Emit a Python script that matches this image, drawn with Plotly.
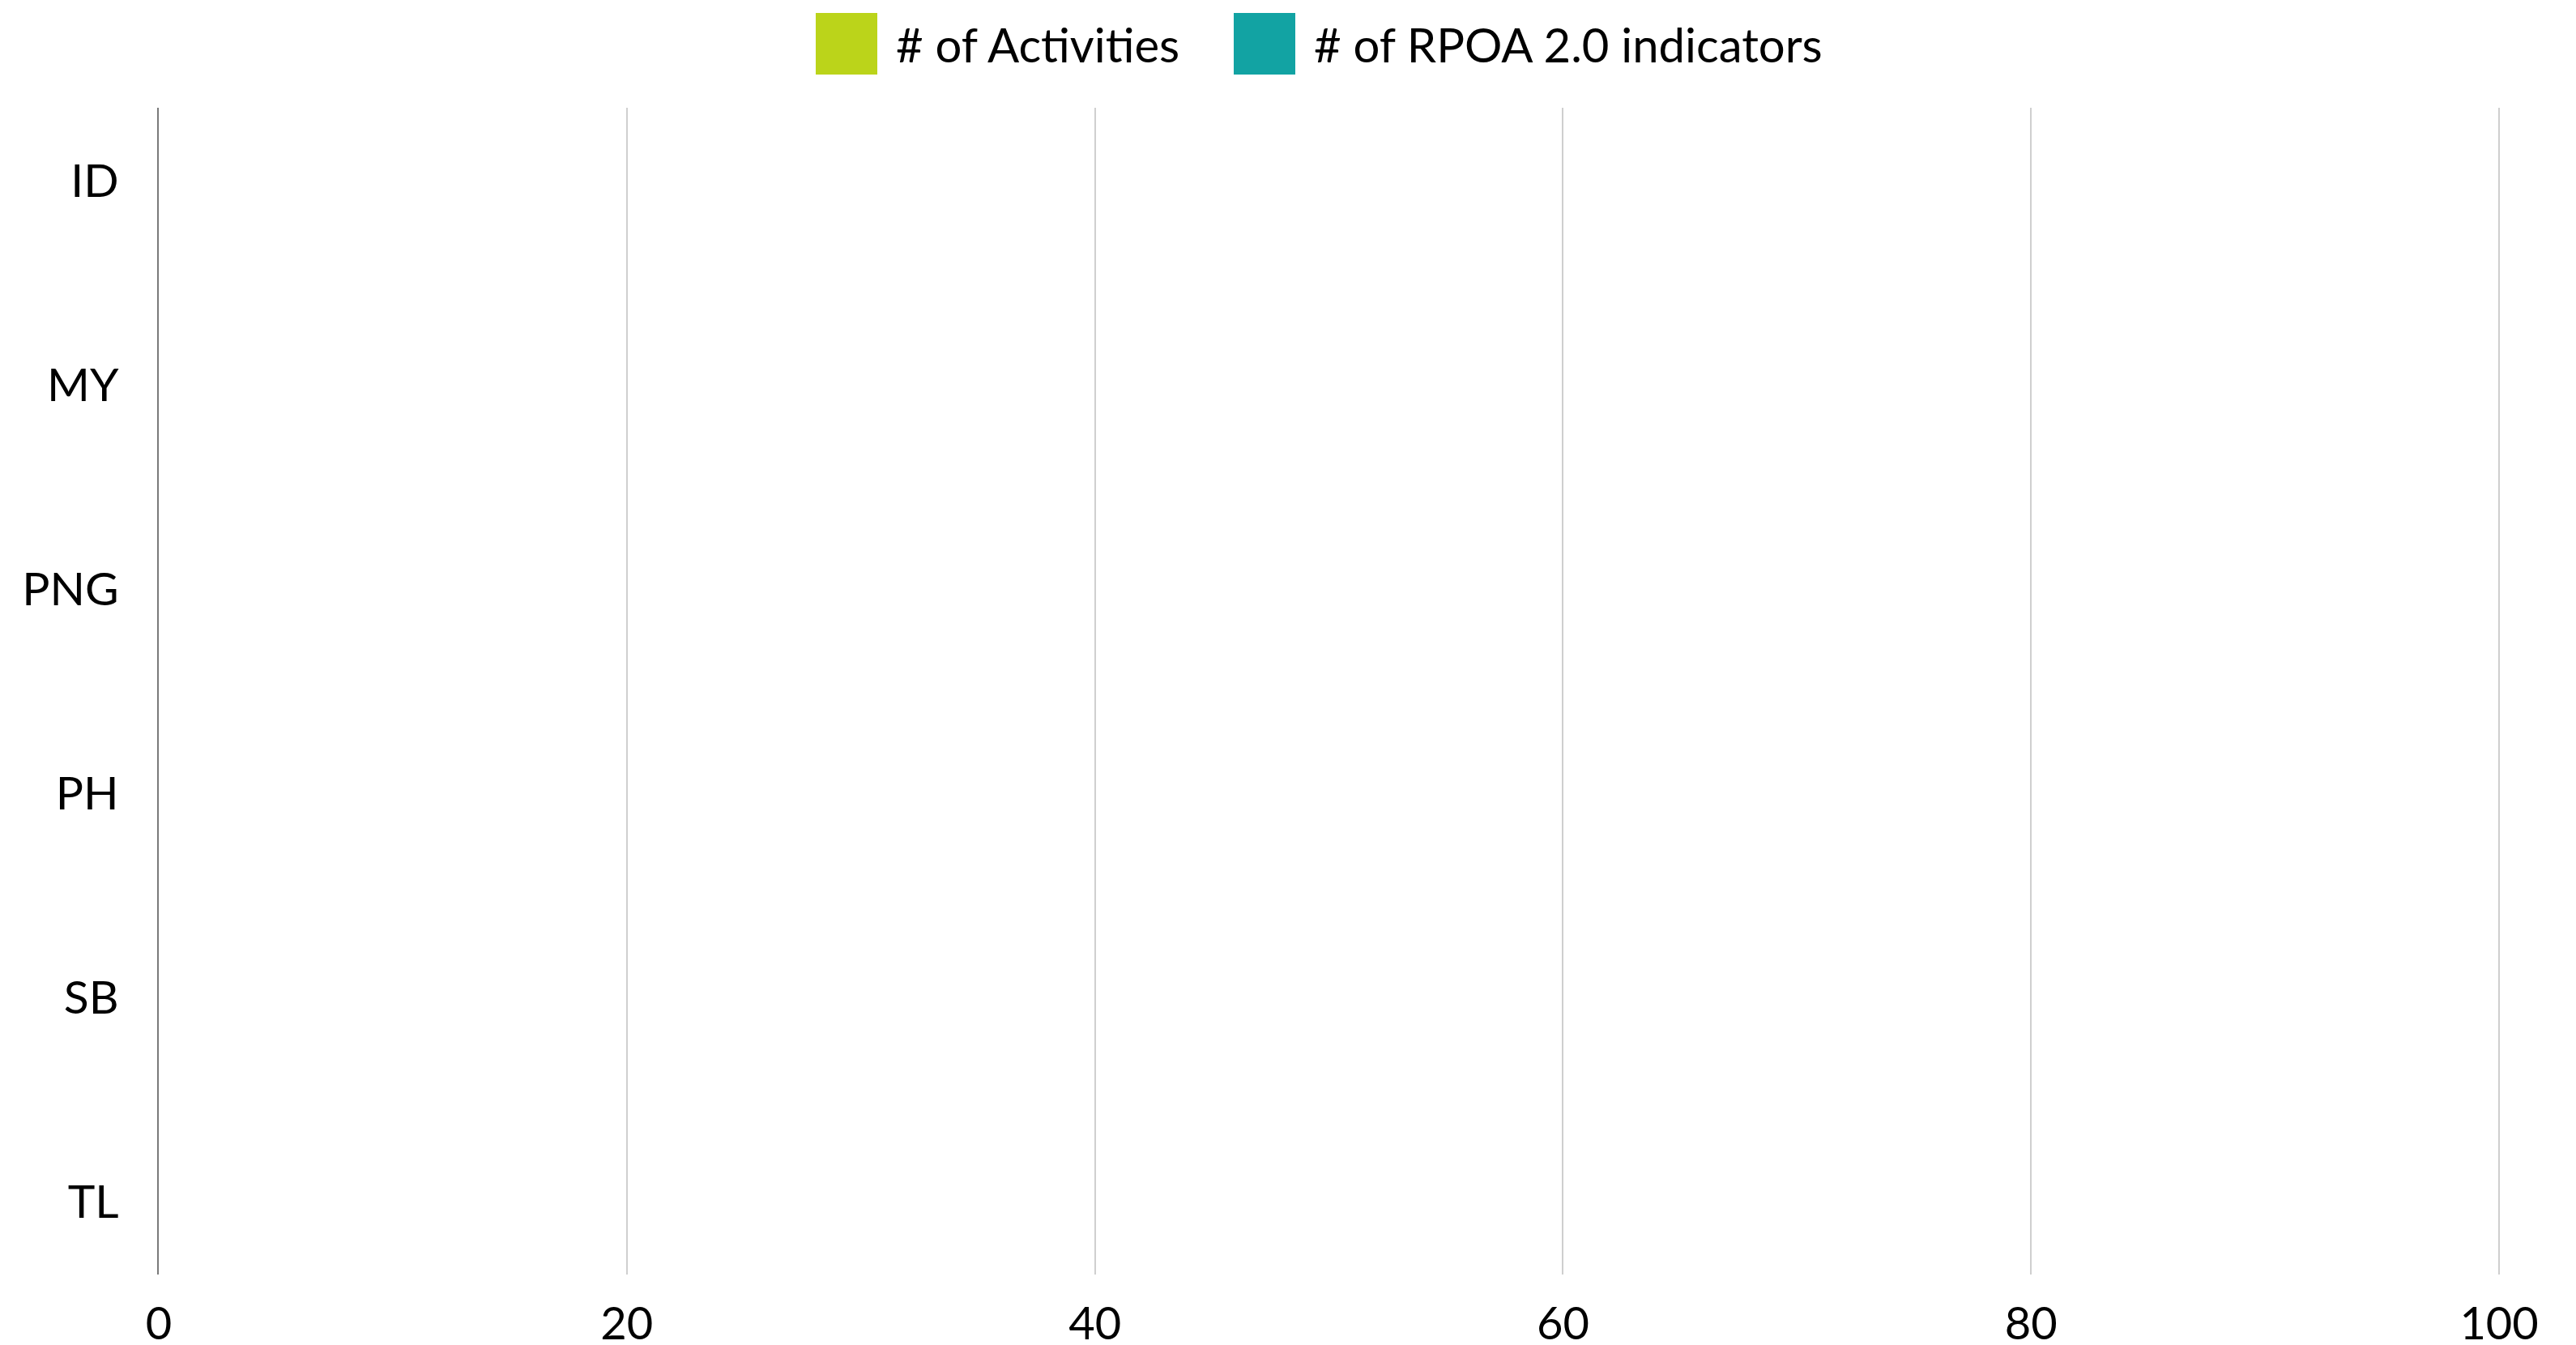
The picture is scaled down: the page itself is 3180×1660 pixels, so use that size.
import plotly.graph_objects as go

# ---- data ----
countries = ["ID", "MY", "PNG", "PH", "SB", "TL"]
activities = [0, 0, 0, 0, 0, 0]
rpoa_indicators = [0, 0, 0, 0, 0, 0]
series_names = ["# of Activities", "# of RPOA 2.0 indicators"]
series_colors = ["#BBD41A", "#12A3A3"]
x_ticks = [0, 20, 40, 60, 80, 100]

FONT = "Lato, 'Open Sans', sans-serif"

W, H = 3180, 1660
OFF = 8  # page body margin offset
ML, MT = 196 - OFF, 133 - OFF
MR = W - (3088 - OFF)
MB = H - (1573 - OFF)

fig = go.Figure()
for name, vals, col in zip(series_names, [activities, rpoa_indicators], series_colors):
    fig.add_trace(go.Bar(y=countries, x=vals, name=name, orientation="h",
                         marker=dict(color=col, line=dict(width=0)), showlegend=False))

fig.update_layout(
    width=W, height=H,
    margin=dict(l=ML, r=MR, t=MT, b=MB, autoexpand=False),
    paper_bgcolor="white", plot_bgcolor="white",
    barmode="group",
    font=dict(family=FONT, color="#000000"),
    xaxis=dict(range=[0, 100.1], tickvals=x_ticks, ticktext=[str(v) for v in x_ticks],
               showgrid=True, gridcolor="#cfcfcf", gridwidth=2,
               zeroline=False, showline=False, automargin=False,
               ticks="outside", ticklen=12, tickcolor="rgba(0,0,0,0)",
               tickfont=dict(size=56, family=FONT, color="#000000")),
    yaxis=dict(categoryorder="array", categoryarray=countries,
               range=[5.357, -0.357], showgrid=False, zeroline=False,
               showline=True, linecolor="#7a7a7a", linewidth=2, layer="above traces",
               automargin=False,
               ticks="outside", ticklen=36, tickcolor="rgba(0,0,0,0)",
               tickfont=dict(size=57, family=FONT, color="#000000")),
)

ph = H - MT - MB
pw = W - ML - MR
def py(ypix):
    # page pixel y -> paper coordinate
    return (H - MB - (ypix - OFF)) / ph
def px(xpix):
    # page pixel x -> paper coordinate
    return ((xpix - OFF) - ML) / pw

# manual legend with large square swatches
legend_x = [1007, 1523]
for i, (name, col) in enumerate(zip(series_names, series_colors)):
    fig.add_shape(type="rect", xref="paper", yref="paper",
                  x0=px(legend_x[i]), x1=px(legend_x[i] + 76),
                  y0=py(92), y1=py(16), fillcolor=col, line=dict(width=0))
    fig.add_annotation(xref="paper", yref="paper", x=px(legend_x[i] + 97), y=py(55),
                       xanchor="left", yanchor="middle", text=name, showarrow=False,
                       font=dict(size=58, family=FONT, color="#000000"))

fig.write_html("out.html")
